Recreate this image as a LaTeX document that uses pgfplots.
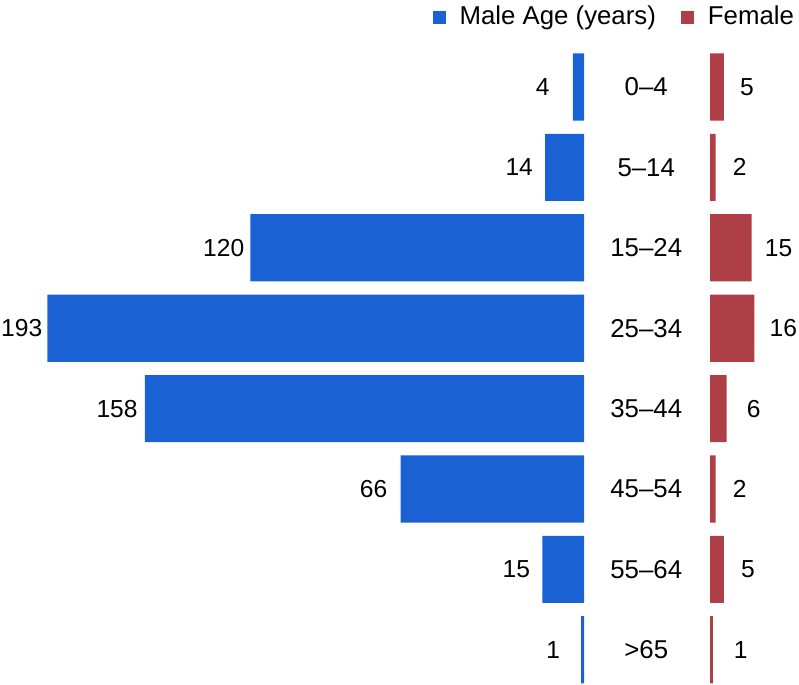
\documentclass[border=0pt]{standalone}
\usepackage{pgfplots}
\pgfplotsset{compat=1.18}
\usepackage{pgfplotstable}
\usepackage{fontspec}
\setmainfont{Liberation Sans}
\definecolor{malec}{RGB}{26,98,212}
\definecolor{femc}{RGB}{175,63,71}
\pgfplotstableread{
y v g
0 4 23
1 14 12
2 120 6
3 193 5
4 158 7
5 66 13
6 15 12
7 1 21
}\maletab
\pgfplotstableread{
y v g
0 5 16
1 2 17
2 15 13
3 16 15
4 6 20
5 2 17
6 5 17
7 1 21
}\femtab
\begin{document}
\fontsize{25.8bp}{30bp}\selectfont
\begin{tikzpicture}
\useasboundingbox (0,0) rectangle (799bp,685bp);
\pgfplotsset{
  common/.style={
    scale only axis, height=685bp,
    ymin=-1.082, ymax=7.438, y dir=reverse,
    xbar, bar width=0.835,
    /pgf/number format/assume math mode=true,
    nodes near coords, point meta=x,
    visualization depends on={\thisrow{g} \as \gap},
  }
}
% Male
\begin{axis}[common,
  at={(0bp,0bp)}, anchor=south west,
  width=584bp, xmin=0, xmax=210.07, x dir=reverse,
  hide axis,
  every node near coord/.append style={anchor=east, inner sep=0pt, xshift=-\gap bp,
    font=\fontsize{24.6bp}{29bp}\selectfont},
]
\addplot[fill=malec, draw=none] table[x=v, y=y] {\maletab};
\end{axis}
% Female
\begin{axis}[common,
  at={(710bp,0bp)}, anchor=south west,
  width=89bp, xmin=0, xmax=32.01,
  clip=false,
  axis line style={draw=none}, tick style={draw=none},
  xtick=\empty, ytick={0,...,7},
  yticklabels={0–4,5–14,15–24,25–34,35–44,45–54,55–64,>65},
  yticklabel style={anchor=center, inner sep=0pt, xshift=-59.5bp},
  every node near coord/.append style={anchor=west, inner sep=0pt, xshift=\gap bp,
    font=\fontsize{24.6bp}{29bp}\selectfont},
  legend columns=-1,
  legend style={at={(1,1)}, anchor=north east, xshift=-5bp, yshift=-6bp,
    draw=none, fill=none, inner sep=0pt, outer sep=0pt,
    nodes={inner sep=0pt},
    /tikz/every even column/.append style={column sep=25bp},
    /tikz/every odd column/.append style={column sep=14bp}},
]
\addlegendimage{fill=malec, draw=none, legend image code/.code={\fill[malec] (0bp,-6.5bp) rectangle (13bp,6.5bp);}}
\addlegendentry{Male Age (years)}
\addplot[fill=femc, draw=none, legend image code/.code={\fill[femc] (0bp,-6.5bp) rectangle (13bp,6.5bp);}] table[x=v, y=y] {\femtab};
\addlegendentry{Female}
\end{axis}
\end{tikzpicture}
\end{document}
